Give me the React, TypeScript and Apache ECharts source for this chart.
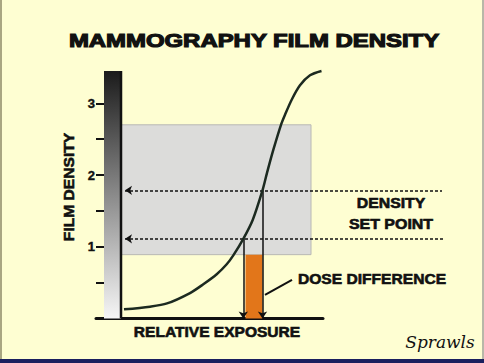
import React, { useEffect, useRef } from "react";
import * as echarts from "echarts";

// Characteristic (H&D) curve: relative exposure (arbitrary units) vs film density
const curveExposure = [0.3, 2.9, 4.6, 6.9, 8.23, 9.57, 10.57, 11.23, 12.23, 13.17, 14.15, 14.6, 15.23, 16.0, 16.4, 17.07, 17.9, 18.9, 20.05];
const curveDensity = [0.128, 0.165, 0.21, 0.355, 0.477, 0.617, 0.756, 0.88, 1.11, 1.373, 1.787, 2.03, 2.35, 2.7, 2.84, 3.05, 3.25, 3.39, 3.45];

// Density set points (position on density axis, label text, exposure where curve crosses)
const setPointLevels = [1.787, 1.11];
const setPointLabels = ["1.7", "1.2"];
const setPointExposure = [14.15, 12.23];
const setPointLineEnd = [32.1, 32.4];
const setPointLineStart = 0.4;

// Useful density range (gray zone): [x0, y0, x1, y1]
const grayZone = [0, 0.89, 19.0, 2.7];
// Dose difference bar: [x0, y0, x1, y1]
const doseBar = [12.45, 0, 14.15, 0.89];
// Pointer from "DOSE DIFFERENCE" label to the bar
const pointerLine = [[14.4, 0.33], [17.1, 0.54]];

// Density scale
const densityMax = 3.45;
const densityTicks = [0.5, 1, 1.5, 2, 2.5, 3];
const densityLabels = [1, 2, 3];
const exposureMin = -2.5;
const exposureMax = 20.2;

export default function App() {
  const ref = useRef<HTMLDivElement>(null);
  useEffect(() => {
    document.body.style.margin = "0";
    const chart = echarts.init(ref.current!, null, { renderer: "svg" });
    const ink = "#111111";
    const curveColor = "#1c2a20";
    const bold = (size: number) => `bold ${size}px "Liberation Sans", Arial, sans-serif`;
    const txt = (text: string, x: number, y: number, font: string, scaleX = 1, heavy = 0.6, extra: any = {}) => ({
      type: "text",
      x,
      y,
      scaleX,
      ...extra,
      style: {
        text,
        font,
        fill: ink,
        stroke: heavy > 0 ? ink : undefined,
        lineWidth: heavy,
        align: "center",
        verticalAlign: "middle",
        textAlign: "center",
        textVerticalAlign: "middle",
      },
    });

    const option: any = {
      animation: false,
      backgroundColor: "#FEFED2",
      grid: { left: 96, right: 161, top: 71, bottom: 44.5 },
      xAxis: {
        type: "value",
        min: exposureMin,
        max: exposureMax,
        axisLine: { show: true, onZero: false, lineStyle: { color: ink, width: 3 } },
        axisTick: { show: false },
        axisLabel: { show: false },
        splitLine: { show: false },
      },
      yAxis: {
        type: "value",
        min: 0,
        max: densityMax,
        axisLine: { show: false, onZero: false },
        axisTick: {
          show: true,
          inside: true,
          length: 8,
          customValues: densityTicks,
          lineStyle: { color: ink, width: 2 },
        },
        axisLabel: {
          show: true,
          margin: 1,
          customValues: densityLabels,
          color: ink,
          fontWeight: "bold",
          fontSize: 13,
          fontFamily: '"Liberation Sans", Arial, sans-serif',
          textBorderColor: ink,
          textBorderWidth: 0.4,
        },
        splitLine: { show: false },
      },
      series: [
        {
          type: "custom",
          silent: true,
          z: 1,
          data: [[0, densityMax]],
          renderItem: (params: any, api: any) => {
            const top = api.coord([api.value(0), api.value(1)]);
            const bot = api.coord([api.value(0), 0]);
            return {
              type: "rect",
              shape: { x: top[0] - 17, y: top[1], width: 17, height: bot[1] - top[1] },
              style: {
                fill: new echarts.graphic.LinearGradient(0, 0, 0, 1, [
                  { offset: 0, color: "#1b1b1b" },
                  { offset: 0.5, color: "#8a8a8a" },
                  { offset: 1, color: "#f6f6f6" },
                ]),
              },
            };
          },
        },
        {
          type: "custom",
          silent: true,
          z: 1,
          data: [grayZone],
          renderItem: (params: any, api: any) => {
            const p0 = api.coord([api.value(0), api.value(3)]);
            const p1 = api.coord([api.value(2), api.value(1)]);
            return {
              type: "rect",
              shape: { x: p0[0], y: p0[1], width: p1[0] - p0[0], height: p1[1] - p0[1] },
              style: { fill: "#DCDCDA", stroke: "#B8B8B4", lineWidth: 1 },
            };
          },
        },
        {
          type: "custom",
          silent: true,
          z: 2,
          data: [doseBar],
          renderItem: (params: any, api: any) => {
            const p0 = api.coord([api.value(0), api.value(3)]);
            const p1 = api.coord([api.value(2), api.value(1)]);
            return {
              type: "rect",
              shape: { x: p0[0], y: p0[1], width: p1[0] - p0[0], height: p1[1] - p0[1] },
              style: { fill: "#E2761A" },
            };
          },
        },
        {
          type: "line",
          z: 3,
          symbol: "none",
          data: [[0, 0], [0, densityMax]],
          lineStyle: { color: ink, width: 2.5 },
        },
        {
          type: "lines",
          coordinateSystem: "cartesian2d",
          z: 4,
          clip: false,
          symbol: ["arrow", "none"],
          symbolSize: 7,
          lineStyle: { color: ink, width: 1.5, type: [3, 2], opacity: 1, curveness: 0 },
          data: setPointLevels.map((lv, i) => ({
            coords: [[setPointLineStart, lv], [setPointLineEnd[i], lv]],
          })),
        },
        {
          type: "lines",
          coordinateSystem: "cartesian2d",
          z: 4,
          clip: false,
          symbol: ["none", "arrow"],
          symbolSize: 7,
          lineStyle: { color: ink, width: 1.5, type: "solid", opacity: 1, curveness: 0 },
          data: setPointLevels.map((lv, i) => ({
            coords: [[setPointExposure[i], lv], [setPointExposure[i], 0]],
          })),
        },
        {
          type: "lines",
          coordinateSystem: "cartesian2d",
          z: 4,
          clip: false,
          symbol: ["none", "none"],
          lineStyle: { color: ink, width: 2, type: "solid", opacity: 1, curveness: 0 },
          data: [{ coords: pointerLine }],
        },
        {
          type: "line",
          z: 5,
          clip: false,
          symbol: "none",
          smooth: 0.3,
          data: curveExposure.map((x, i) => [x, curveDensity[i]]),
          lineStyle: { color: curveColor, width: 2.5 },
        },
      ],
      graphic: [
        { type: "rect", shape: { x: 0, y: 0, width: 2, height: 363 }, style: { fill: "#A9A682" } },
        { type: "rect", shape: { x: 482, y: 0, width: 2, height: 363 }, style: { fill: "#B8B8A8" } },
        { type: "rect", shape: { x: 0, y: 359, width: 484, height: 4 }, style: { fill: "#1A1F5E" } },
        txt("MAMMOGRAPHY FILM DENSITY", 254, 41, bold(18), 1.33, 1.1),
        txt("FILM DENSITY", 69, 187, bold(15), 1.04, 0.6, { rotation: Math.PI / 2 }),
        txt("RELATIVE EXPOSURE", 217, 332, bold(14), 1.11),
        txt("DENSITY", 391, 203, bold(14), 1.13),
        txt("SET POINT", 391, 223.5, bold(14), 1.14),
        txt("DOSE DIFFERENCE", 372, 278.5, bold(15), 1.04),
        txt(setPointLabels[0], 158, 184.5, bold(13), 1.18),
        txt(setPointLabels[1], 156, 232.5, bold(13), 1.18),
        txt("Sprawls", 440, 342, 'italic 17px "DejaVu Serif", "Liberation Serif", serif', 1, 0),
      ],
    };
    chart.setOption(option);
    return () => chart.dispose();
  }, []);
  return <div ref={ref} style={{ width: 484, height: 363 }} />;
}
